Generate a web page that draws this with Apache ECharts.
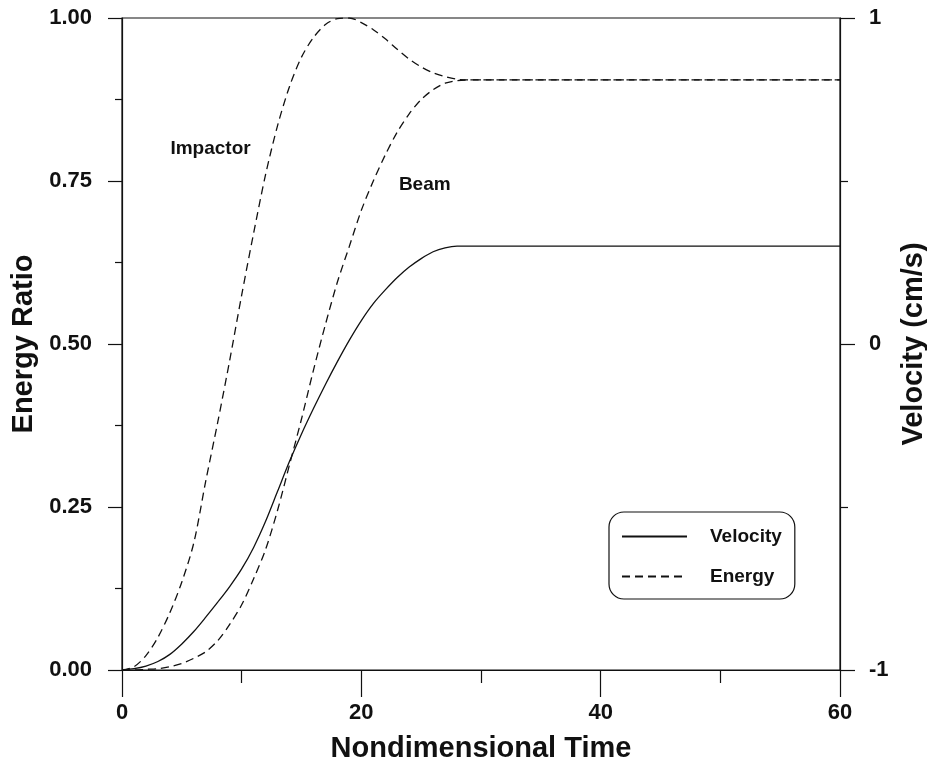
<!DOCTYPE html>
<html style="height: 100%">

<head>
    <meta charset="utf-8">
    <title>Energy Ratio and Velocity</title>
</head>

<body style="height: 100%; margin: 0; background: #fff">
    <div id="container" style="width: 927px; height: 771px"></div>
    <script src="https://cdn.jsdelivr.net/npm/echarts@6/dist/echarts.min.js"></script>
    <script type="text/javascript">
        // nondimensional time
        var time = [0, 1, 2, 3, 4, 5, 6, 7, 8, 9, 10, 11, 12, 13, 14, 15, 16, 17, 18, 19,
            20, 21, 22, 23, 24, 25, 26, 27, 28, 29, 30, 40, 50, 60];
        // energy ratio of impactor (dashed, left axis)
        var impactor = [0, 0.005, 0.022, 0.05, 0.088, 0.135, 0.195, 0.29, 0.38, 0.475,
            0.575, 0.67, 0.76, 0.835, 0.895, 0.94, 0.97, 0.99, 0.999, 1.0,
            0.993, 0.982, 0.968, 0.952, 0.937, 0.925, 0.916, 0.91, 0.906, 0.905,
            0.905, 0.905, 0.905, 0.905];
        // energy ratio of beam (dashed, left axis)
        var beam = [0, 0, 0.001, 0.002, 0.005, 0.01, 0.018, 0.028, 0.045, 0.07,
            0.1, 0.14, 0.185, 0.245, 0.315, 0.385, 0.46, 0.53, 0.595, 0.65,
            0.705, 0.75, 0.79, 0.825, 0.853, 0.875, 0.89, 0.9, 0.904, 0.905,
            0.905, 0.905, 0.905, 0.905];
        // velocity in cm/s (solid, right axis)
        var velocity = [-1, -0.996, -0.988, -0.974, -0.952, -0.92, -0.882, -0.838, -0.792, -0.744,
            -0.69, -0.624, -0.544, -0.452, -0.36, -0.276, -0.198, -0.124, -0.054, 0.012,
            0.072, 0.124, 0.166, 0.204, 0.236, 0.262, 0.283, 0.295, 0.3, 0.3,
            0.3, 0.3, 0.3, 0.3];

        // curve annotations (time, energy ratio)
        var noteText = ['Impactor', 'Beam'];
        var noteX = [7.4, 25.3];
        var noteY = [0.80, 0.744];

        function pairs(ys) {
            return time.map(function (t, i) { return [t, ys[i]]; });
        }

        var font = 'Liberation Sans, Arial, sans-serif';
        var black = '#111';

        var myChart = echarts.init(document.getElementById('container'));

        var option = {
            backgroundColor: '#fff',
            animation: false,
            textStyle: { fontFamily: font, color: black },
            grid: {
                left: 122, right: 87, top: 18, bottom: 101,
                outerBoundsMode: 'none', containLabel: false,
                show: true, borderColor: black, borderWidth: 1.2
            },
            legend: {
                data: ['Velocity', 'Energy'],
                orient: 'vertical',
                left: 609, top: 512,
                padding: [15, 13, 13, 12],
                itemWidth: 65, itemHeight: 18, itemGap: 21,
                itemStyle: { color: 'rgba(0,0,0,0)', borderWidth: 0, opacity: 0 },
                borderColor: black, borderWidth: 1.2, borderRadius: 15,
                textStyle: {
                    fontFamily: font, fontWeight: 'bold', fontSize: 19,
                    color: black, lineHeight: 18, padding: [0, 0, 0, 18]
                }
            },
            xAxis: {
                type: 'value',
                min: 0, max: 60, interval: 20,
                name: 'Nondimensional Time',
                nameLocation: 'middle', nameGap: 64,
                nameTextStyle: { fontFamily: font, fontWeight: 'bold', fontSize: 29, color: black },
                axisLine: { lineStyle: { color: black, width: 1.2 } },
                axisTick: { length: 27, lineStyle: { color: black, width: 1.2 } },
                minorTick: { show: true, splitNumber: 2, length: 13, lineStyle: { color: black, width: 1.2 } },
                splitLine: { show: false },
                axisLabel: { margin: 32, fontFamily: font, fontWeight: 'bold', fontSize: 22, color: black }
            },
            yAxis: [{
                type: 'value',
                min: 0, max: 1, interval: 0.25,
                name: 'Energy Ratio',
                nameLocation: 'middle', nameGap: 80,
                nameTextStyle: { fontFamily: font, fontWeight: 'bold', fontSize: 29, color: black },
                axisLine: { show: true, lineStyle: { color: black, width: 1.2 } },
                axisTick: { show: true, length: 14, lineStyle: { color: black, width: 1.2 } },
                minorTick: { show: true, splitNumber: 2, length: 7, lineStyle: { color: black, width: 1.2 } },
                splitLine: { show: false },
                axisLabel: {
                    margin: 30, fontFamily: font, fontWeight: 'bold', fontSize: 22, color: black,
                    formatter: function (v) { return v.toFixed(2); }
                }
            }, {
                type: 'value',
                min: -1, max: 1, interval: 1,
                position: 'right',
                name: 'Velocity (cm/s)',
                nameLocation: 'middle', nameGap: 50,
                nameTextStyle: { fontFamily: font, fontWeight: 'bold', fontSize: 29, color: black },
                axisLine: { show: true, lineStyle: { color: black, width: 1.2 } },
                axisTick: { show: true, length: 15, lineStyle: { color: black, width: 1.2 } },
                minorTick: { show: true, splitNumber: 2, length: 8, lineStyle: { color: black, width: 1.2 } },
                splitLine: { show: false },
                axisLabel: { margin: 29, fontFamily: font, fontWeight: 'bold', fontSize: 22, color: black }
            }],
            series: [{
                name: 'Velocity',
                type: 'line',
                yAxisIndex: 1,
                data: pairs(velocity),
                symbol: 'none',
                smooth: 0.3,
                lineStyle: { color: black, width: 1.3, type: 'solid' },
                itemStyle: { color: black }
            }, {
                name: 'Energy',
                type: 'line',
                data: pairs(impactor),
                symbol: 'none',
                smooth: 0.3,
                lineStyle: { color: black, width: 1.3, type: [8, 5] },
                itemStyle: { color: black },
                markPoint: {
                    symbol: 'circle', symbolSize: 1,
                    itemStyle: { color: 'rgba(0,0,0,0)' },
                    label: {
                        show: true, position: 'inside',
                        fontFamily: font, fontWeight: 'bold', fontSize: 19, color: black,
                        formatter: function (p) { return p.name; }
                    },
                    data: noteText.map(function (txt, i) {
                        return { name: txt, coord: [noteX[i], noteY[i]] };
                    })
                }
            }, {
                name: 'Energy',
                type: 'line',
                data: pairs(beam),
                symbol: 'none',
                smooth: 0.3,
                lineStyle: { color: black, width: 1.3, type: [8, 5] },
                itemStyle: { color: black }
            }]
        };
        myChart.setOption(option);
    </script>
</body>

</html>
